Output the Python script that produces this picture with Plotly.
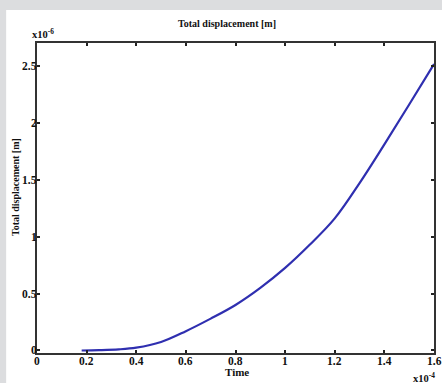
import plotly.graph_objects as go

# Data (time in 1e-4 s, displacement in 1e-6 m)
time_vals = [0.18, 0.25, 0.33, 0.40, 0.50, 0.60, 0.70, 0.80, 0.90, 1.00, 1.10, 1.20, 1.30, 1.40, 1.50, 1.60]
disp_vals = [0.0, 0.003, 0.010, 0.025, 0.075, 0.17, 0.28, 0.40, 0.55, 0.725, 0.93, 1.16, 1.47, 1.81, 2.16, 2.515]

x_ticks = [0, 0.2, 0.4, 0.6, 0.8, 1.0, 1.2, 1.4, 1.6]
x_ticktext = ["0", "0.2", "0.4", "0.6", "0.8", "1", "1.2", "1.4", "1.6"]
y_ticks = [0, 0.5, 1.0, 1.5, 2.0, 2.5]
y_ticktext = ["0", "0.5", "1", "1.5", "2", "2.5"]

FONT = "Liberation Serif"
W, H = 442, 383
ML, MR, MT, MB = 37, 6, 43, 30
pw, ph = W - ML - MR, H - MT - MB

def px_x(p):
    return (p - ML) / pw

def px_y(p):
    return (H - MB - p) / ph

fig = go.Figure()
fig.add_trace(go.Scatter(x=time_vals, y=disp_vals, mode="lines",
                         line=dict(color="#2f2fb0", width=2.2, shape="spline", smoothing=1.0),
                         showlegend=False, hoverinfo="skip"))

axis_common = dict(showline=True, linecolor="#333333", linewidth=2, mirror="ticks",
                   ticks="inside", ticklen=3, tickwidth=1.5, tickcolor="#222222",
                   showgrid=False, zeroline=False, showticklabels=False)

fig.update_xaxes(range=[0, 1.6], tickvals=x_ticks, **axis_common)
fig.update_yaxes(range=[-0.022, 2.7], tickvals=y_ticks, **axis_common)

fig.add_shape(type="rect", xref="paper", yref="paper",
              x0=px_x(6), x1=px_x(460), y0=px_y(400), y1=px_y(10),
              fillcolor="white", line=dict(width=0), layer="below")

def fnt(size):
    return dict(family=FONT, size=size, color="#111111", weight="bold")

# tick labels placed on the axes' own scales
for v, t in zip(x_ticks, x_ticktext):
    fig.add_annotation(text=t, xref="x", yref="paper", x=v, y=px_y(361),
                       showarrow=False, xanchor="center", yanchor="middle", font=fnt(11.5))
for v, t in zip(y_ticks, y_ticktext):
    fig.add_annotation(text=t, xref="paper", yref="y", x=px_x(38), y=v,
                       showarrow=False, xanchor="right", yanchor="middle", font=fnt(11.5),
                       borderpad=0)

def ann(text, x, y, size, angle=0):
    fig.add_annotation(text=text, xref="paper", yref="paper", x=px_x(x), y=px_y(y),
                       showarrow=False, textangle=angle, xanchor="center", yanchor="middle",
                       font=fnt(size))

ann("Total displacement [m]", 228, 23, 10)
ann("Total displacement [m]", 15, 187, 10, angle=-90)
ann("Time", 238, 372, 11)
ann("x10<sup>-6</sup>", 43, 33, 10.5)
ann("x10<sup>-4</sup>", 426, 377, 10.5)

fig.update_layout(width=W, height=H, margin=dict(l=ML, r=MR, t=MT, b=MB),
                  paper_bgcolor="#dcdddf", plot_bgcolor="white")

fig.write_html("out.html", config={"displayModeBar": False},
               post_script="document.body.style.margin='0';document.body.style.overflow='hidden';")
